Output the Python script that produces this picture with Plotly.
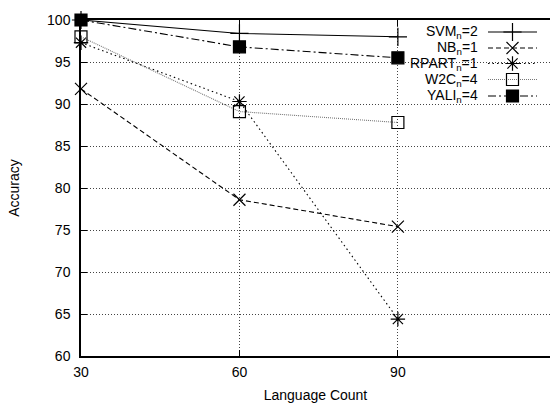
import plotly.graph_objects as go

lang_count = [30, 60, 90]
svm = [100.0, 98.4, 98.0]
nb = [91.8, 78.6, 75.4]
rpart = [97.3, 90.3, 64.4]
w2c = [98.0, 89.1, 87.8]
yali = [100.0, 96.8, 95.5]

names = ["SVM<sub>n</sub>=2", "NB<sub>n</sub>=1", "RPART<sub>n</sub>=1",
         "W2C<sub>n</sub>=4", "YALI<sub>n</sub>=4"]
y_ticks = [60, 65, 70, 75, 80, 85, 90, 95, 100]
x_ticks = [30, 60, 90]

FONT = "Liberation Sans, Arial, Helvetica, sans-serif"

styles = [
    dict(dash="solid", color="black", symbol="cross-thin-open", size=13, mcolor="black"),
    dict(dash="5px,3px", color="black", symbol="x-thin-open", size=12, mcolor="black"),
    dict(dash="1.5px,3px", color="black", symbol="asterisk-open", size=12, mcolor="black"),
    dict(dash="1px,1px", color="#777777", symbol="square-open", size=12, mcolor="black"),
    dict(dash="8px,3px,2px,3px", color="black", symbol="square", size=12, mcolor="black"),
]
series = [svm, nb, rpart, w2c, yali]

fig = go.Figure()
for s, st, nm in zip(series, styles, names):
    fig.add_trace(go.Scatter(
        x=lang_count, y=s, mode="lines+markers", name=nm, showlegend=False,
        cliponaxis=False,
        line=dict(color=st["color"], dash=st["dash"], width=1.1),
        marker=dict(symbol=st["symbol"], size=st["size"], color=st["mcolor"],
                    line=dict(color=st["mcolor"], width=1.2)),
    ))

# gnuplot-style legend (text on left, sample on right), pixel coords on overlay axes
row_y = [32, 48, 63.5, 79.5, 96]
annotations = []
for i, (st, nm) in enumerate(zip(styles, names)):
    fig.add_trace(go.Scatter(
        x=[488, 537], y=[row_y[i], row_y[i]], mode="lines", xaxis="x2", yaxis="y2",
        showlegend=False, hoverinfo="skip", cliponaxis=False,
        line=dict(color=st["color"], dash=st["dash"], width=1.1)))
    fig.add_trace(go.Scatter(
        x=[512.5], y=[row_y[i]], mode="markers", xaxis="x2", yaxis="y2",
        showlegend=False, hoverinfo="skip", cliponaxis=False,
        marker=dict(symbol=st["symbol"], size=st["size"], color=st["mcolor"],
                    line=dict(color=st["mcolor"], width=1.2))))
    annotations.append(dict(
        x=480, y=row_y[i], xref="x2", yref="y2", text=nm, showarrow=False,
        xanchor="right", yanchor="middle",
        font=dict(family=FONT, size=14, color="black")))

fig.update_layout(
    width=550, height=403,
    margin=dict(l=81, r=0, t=20, b=47),
    paper_bgcolor="white", plot_bgcolor="white",
    font=dict(family=FONT, size=14, color="black"),
    annotations=annotations,
    xaxis=dict(range=[30, 118.8], tickvals=x_ticks, ticktext=[str(v) for v in x_ticks],
               showgrid=True, gridcolor="#444444", griddash="1px,2px", gridwidth=1,
               showline=True, linecolor="black", linewidth=1.5, mirror="ticks",
               ticks="inside", ticklen=6, tickcolor="black", zeroline=False,
               ticklabelstandoff=2,
               title=dict(text="Language Count", font=dict(size=14), standoff=12)),
    yaxis=dict(range=[60, 100], tickvals=y_ticks, ticktext=[str(v) for v in y_ticks],
               showgrid=True, gridcolor="#444444", griddash="1px,2px", gridwidth=1,
               showline=True, linecolor="black", linewidth=1.5,
               ticks="inside", ticklen=6, tickcolor="black", zeroline=False,
               ticklabelstandoff=6,
               title=dict(text="Accuracy", font=dict(size=14), standoff=24)),
    xaxis2=dict(overlaying="x", range=[81, 550], visible=False, fixedrange=True),
    yaxis2=dict(overlaying="y", range=[356, 20], visible=False, fixedrange=True),
)

fig.write_html("out.html")
